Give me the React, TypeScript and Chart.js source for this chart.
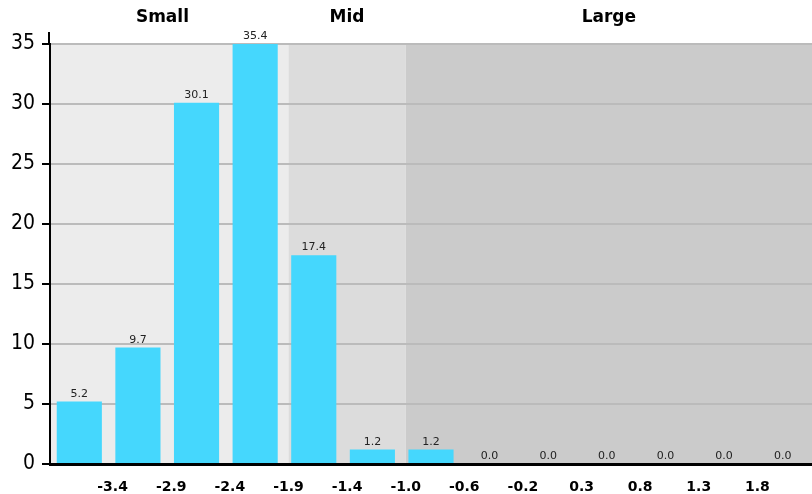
import React, { useEffect, useRef } from "react";
import { Chart, registerables } from "chart.js";

Chart.register(...registerables);

// Histogram bin values (percent)
const values = [5.2, 9.7, 30.1, 35.4, 17.4, 1.2, 1.2, 0, 0, 0, 0, 0, 0];
// Labels at bin edges (between bars)
const edgeLabels = ["-3.4", "-2.9", "-2.4", "-1.9", "-1.4", "-1.0", "-0.6", "-0.2", "0.3", "0.8", "1.3", "1.8"];
// Shaded regions, in bin-edge units
const regionNames = ["Small", "Mid", "Large"];
const regionStarts = [-0.3, 4, 6];
const regionEnds = [4, 6, 13];
const regionColors = ["#ececec", "#dcdcdc", "#cbcbcb"];
const yTicks = [0, 5, 10, 15, 20, 25, 30, 35];

const BAR_COLOR = "#45d7fd";
const SHIFT = 4;

export default function App() {
  const ref = useRef<HTMLCanvasElement | null>(null);

  useEffect(() => {
    document.body.style.margin = "0";
    const canvas = ref.current;
    if (!canvas) return;

    const regionPlugin = {
      id: "regions",
      beforeDraw(chart: any) {
        const { ctx, chartArea } = chart;
        const xs = chart.scales.x;
        ctx.save();
        for (let i = 0; i < regionNames.length; i++) {
          const x0 = Math.max(xs.getPixelForValue(regionStarts[i]) + SHIFT, chartArea.left);
          const x1 = Math.min(xs.getPixelForValue(regionEnds[i]) + (i === regionNames.length - 1 ? 0 : SHIFT), chartArea.right);
          ctx.fillStyle = regionColors[i];
          ctx.fillRect(x0, chartArea.top, x1 - x0, chartArea.bottom - chartArea.top);
        }
        ctx.restore();
      },
      afterDraw(chart: any) {
        const { ctx, chartArea } = chart;
        const xs = chart.scales.x;
        ctx.save();
        // region labels
        ctx.fillStyle = "#000";
        ctx.font = "bold 17px 'DejaVu Sans'";
        ctx.textAlign = "center";
        ctx.textBaseline = "middle";
        for (let i = 0; i < regionNames.length; i++) {
          const a = xs.getPixelForValue(regionStarts[i]) + SHIFT;
          const b = Math.min(xs.getPixelForValue(regionEnds[i]) + SHIFT, chartArea.right);
          ctx.fillText(regionNames[i], (a + b) / 2, 18);
        }
        // y axis extension above plot
        ctx.strokeStyle = "#000";
        ctx.lineWidth = 2;
        ctx.beginPath();
        ctx.moveTo(chartArea.left - 1, chartArea.top - 12);
        ctx.lineTo(chartArea.left - 1, chartArea.top + 1);
        ctx.stroke();
        // value labels
        const meta = chart.getDatasetMeta(0);
        ctx.font = "11px 'DejaVu Sans'";
        ctx.fillStyle = "#222";
        ctx.textBaseline = "alphabetic";
        meta.data.forEach((bar: any, i: number) => {
          const top = Math.max(bar.y, chartArea.top);
          ctx.fillText(values[i].toFixed(1), bar.x, top - 5);
        });
        ctx.restore();
      },
    };

    const chart = new Chart(canvas, {
      type: "bar",
      data: {
        datasets: [
          {
            data: values.map((v, i) => ({ x: i + 0.5, y: v })),
            backgroundColor: BAR_COLOR,
            borderWidth: 0,
            categoryPercentage: 1,
            barPercentage: 0.77,
          },
        ],
      },
      options: {
        animation: false,
        responsive: false,
        maintainAspectRatio: false,
        layout: { padding: { top: 44, left: 0, right: 0, bottom: 0 } },
        plugins: { legend: { display: false }, tooltip: { enabled: false } },
        scales: {
          x: {
            type: "linear",
            offset: false,
            min: 0,
            max: 13,
            grid: { display: false, offset: false },
            border: { display: true, color: "#000", width: 3 },
            afterBuildTicks: (scale: any) => {
              scale.ticks = edgeLabels.map((_, i) => ({ value: i + 1 }));
            },
            afterFit: (scale: any) => {
              scale.height = 30;
              scale.paddingLeft = 0;
              scale.paddingRight = 0;
            },
            ticks: {
              autoSkip: false,
              maxRotation: 0,
              padding: 7,
              labelOffset: SHIFT,
              color: "#000",
              font: { family: "'DejaVu Sans'", size: 14, weight: "bold" },
              callback: (_v: any, i: number) => edgeLabels[i],
            },
          },
          y: {
            min: 0,
            max: 35,
            afterBuildTicks: (scale: any) => {
              scale.ticks = yTicks.map((v) => ({ value: v }));
            },
            afterFit: (scale: any) => {
              scale.width = 50;
              scale.paddingTop = 0;
              scale.paddingBottom = 0;
            },
            grid: {
              color: "#bbbbbb",
              lineWidth: 2,
              tickColor: "#000",
              tickLength: 8,
              tickWidth: 2,
            },
            border: { display: true, color: "#000", width: 2 },
            ticks: {
              padding: 7,
              color: "#000",
              font: { family: "'DejaVu Sans Condensed', 'DejaVu Sans'", size: 21 },
            },
          },
        },
      },
      plugins: [regionPlugin],
    } as any);

    return () => chart.destroy();
  }, []);

  return <canvas ref={ref} width={812} height={494} style={{ display: "block" }} />;
}
